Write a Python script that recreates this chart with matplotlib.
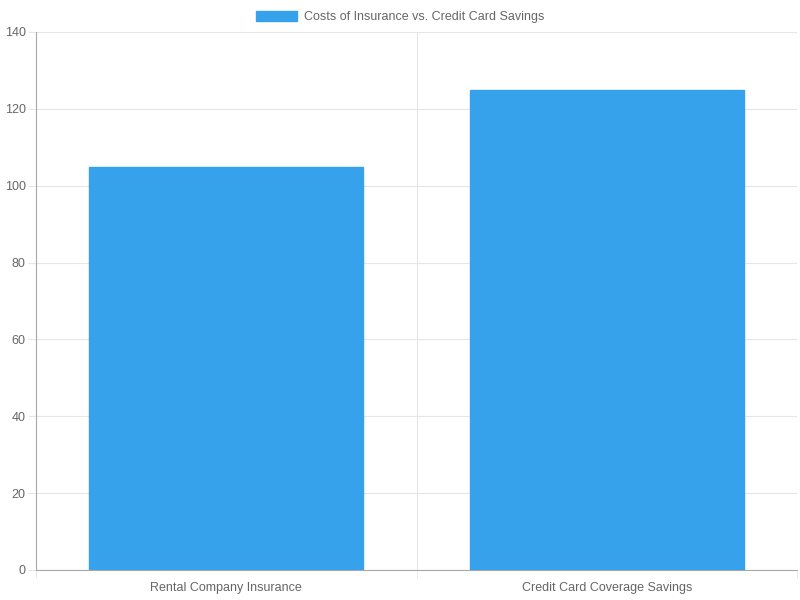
import matplotlib
matplotlib.use("Agg")
import matplotlib.pyplot as plt
from matplotlib.patches import Patch

categories = ["Rental Company Insurance", "Credit Card Coverage Savings"]
values = [105, 125]
series_label = "Costs of Insurance vs. Credit Card Savings"
yticks = [0, 20, 40, 60, 80, 100, 120, 140]

plt.rcParams['font.family'] = ['Liberation Sans', 'DejaVu Sans']
fig = plt.figure(figsize=(8, 6), dpi=100)
ax = fig.add_axes([36/800, 1-570/600, (797-36)/800, (570-32)/600])

x = list(range(len(categories)))
ax.bar(x, values, width=0.72, color='#36A2EB', edgecolor='#36A2EB', linewidth=1, zorder=3)

ax.set_xlim(-0.5, len(categories)-0.5)
ax.set_ylim(0, 140)
ax.set_yticks(yticks)
ax.set_yticklabels([str(t) for t in yticks])
ax.set_xticks(x)
ax.set_xticklabels(categories)
ax.set_xticks([i-0.5 for i in range(len(categories)+1)], minor=True)

gridc = '#e6e6e6'
ax.grid(axis='y', which='major', color=gridc, linewidth=0.8, zorder=0)
ax.grid(axis='x', which='minor', color=gridc, linewidth=0.8, zorder=0)
ax.tick_params(axis='y', which='major', length=6, color=gridc, labelsize=9, labelcolor='#666666', pad=1.5)
ax.tick_params(axis='x', which='major', length=0, labelsize=9, labelcolor='#666666', pad=8.5)
ax.tick_params(axis='x', which='minor', length=6, color=gridc)
ax.tick_params(axis='y', which='minor', length=0)

for s in ['top', 'right']:
    ax.spines[s].set_visible(False)
ax.spines['left'].set_color('#a8a8a8')
ax.spines['bottom'].set_color('#a8a8a8')
ax.spines['left'].set_linewidth(0.8)
ax.spines['bottom'].set_linewidth(0.8)

handle = Patch(facecolor='#36A2EB', edgecolor='#36A2EB')
fig.legend([handle], [series_label], loc='upper center', bbox_to_anchor=(0.5, 1.0 - 2/600),
           frameon=False, fontsize=9, labelcolor='#666666', handlelength=3.3,
           handleheight=0.9, handletextpad=0.5, borderaxespad=0.3)

fig.savefig('out.png', dpi=100)
